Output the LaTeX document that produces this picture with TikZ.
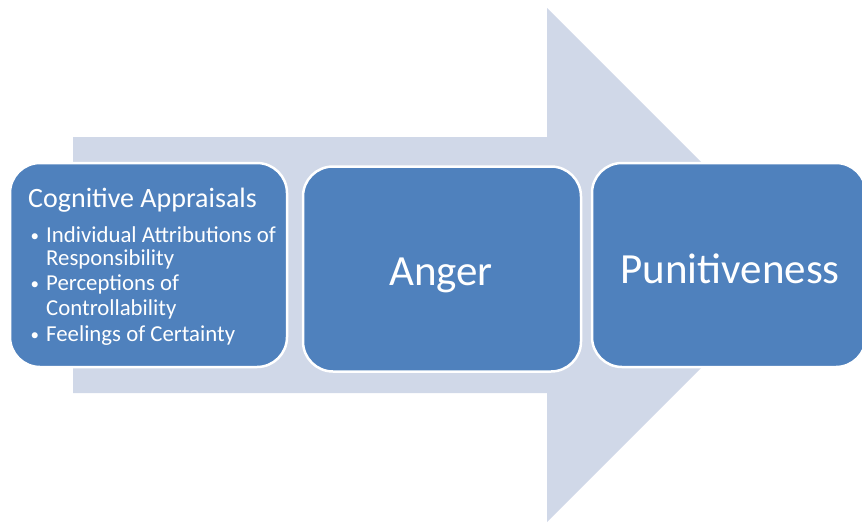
\documentclass[tikz,border=0pt]{standalone}
\usepackage{fontspec}
\setmainfont{Carlito}
\definecolor{boxblue}{HTML}{4F81BD}
\definecolor{arrowgrey}{HTML}{D0D8E8}
\begin{document}
\begin{tikzpicture}[x=1pt,y=-1pt,
  stage/.style={draw=white, line width=2.5pt, fill=boxblue, rounded corners=30pt, inner sep=0pt},
  txt/.style={text=white, inner sep=0pt, anchor=base west},
  bul/.style={txt, font=\fontsize{22.8}{26}\selectfont},
  dot/.style={txt, font=\fontsize{17}{20}\selectfont},
  big/.style={text=white, inner sep=0pt, font=\fontsize{43}{50}\selectfont}]
\useasboundingbox (0,0) rectangle (862,523);
% big background arrow
\fill[arrowgrey] (73,137) -- (547,137) -- (547,8) -- (804,265) -- (547,522) -- (547,393) -- (73,393) -- cycle;
% boxes
\node[stage, minimum width=277pt, minimum height=204pt] (b1) at (148.5,265) {};
\node[stage, minimum width=278pt, minimum height=205pt] (b2) at (442,269) {};
\node[stage, minimum width=274pt, minimum height=204pt] (b3) at (729,265) {};
% box 1 text
\node[txt, font=\fontsize{28}{32}\selectfont] (t1) at (28,207) {Cognitive Appraisals};
\node[dot] (d1) at (30.5,241) {•};
\node[bul] (l1) at (46,242) {Individual Attributions of};
\node[bul] (l2) at (46,265) {Responsibility};
\node[dot] (d2) at (30.5,289) {•};
\node[bul] (l3) at (46,290) {Perceptions of};
\node[bul] (l4) at (46,315) {Controllability};
\node[dot] (d3) at (30.5,340) {•};
\node[bul] (l5) at (46,341) {Feelings of Certainty};
% box 2 and 3 text
\node[big] (t2) at (441,275) {Anger};
\node[big] (t3) at (730,269) {Punitiveness};
\end{tikzpicture}
\end{document}
